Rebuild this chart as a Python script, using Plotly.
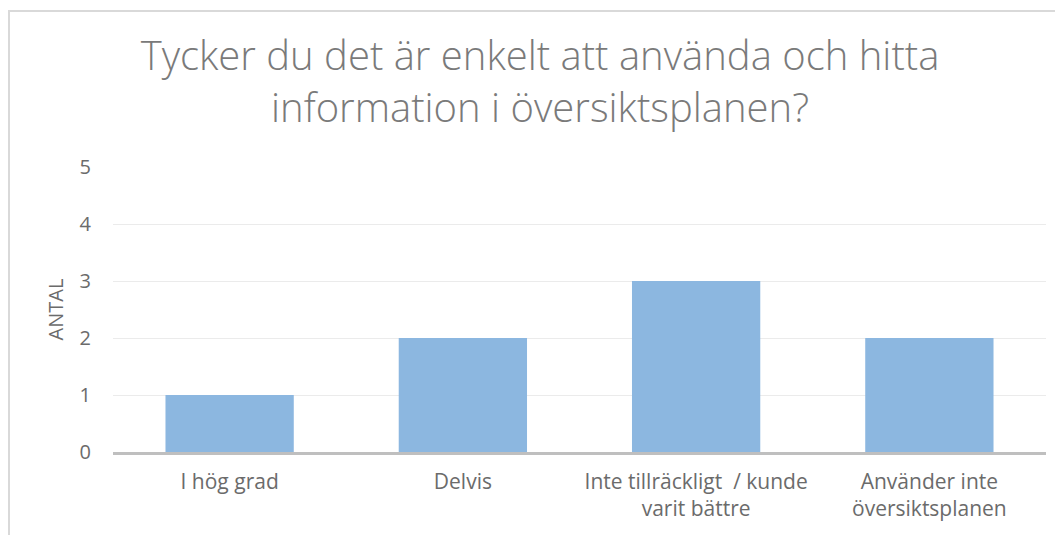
import plotly.graph_objects as go

categories = ["I hög grad", "Delvis", "Inte tillräckligt  / kunde<br>varit bättre", "Använder inte<br>översiktsplanen"]
values = [1, 2, 3, 2]
y_ticks = [0, 1, 2, 3, 4, 5]

title_text = "Tycker du det är enkelt att använda och hitta<br>information i översiktsplanen?"

# page has an 8px body margin, so the figure is drawn 8px smaller and offset
OFF = 8
W, H = 1063 - OFF, 535 - OFF
L, R, T, B = 113 - OFF, 17, 167 - OFF, 83
pw, ph = W - L - R, H - T - B

def px_x(p):
    return (p - OFF - L) / pw

def px_y(p):
    return (H - B - (p - OFF)) / ph

fig = go.Figure(go.Bar(
    x=categories, y=values,
    marker=dict(color="#8cb7e0", line=dict(width=0)),
    width=0.55,
))

fig.update_layout(
    width=W, height=H,
    margin=dict(l=L, r=R, t=T, b=B),
    paper_bgcolor="white", plot_bgcolor="white",
    font=dict(family="Open Sans, Liberation Sans, sans-serif", color="#6b6b6b"),
    showlegend=False,
    title=dict(text=title_text, x=(540 - OFF) / W, xref="container", xanchor="center",
               y=1 - 62 / H, yref="container", yanchor="top",
               font=dict(size=40, color="#7a7a7a", family="Open Sans, sans-serif", weight=300)),
    shapes=[dict(type="rect", xref="paper", yref="paper",
                 x0=px_x(9), x1=px_x(1090), y0=px_y(580), y1=px_y(11),
                 line=dict(color="#d9d9d9", width=2), fillcolor="rgba(0,0,0,0)", layer="below")],
)
fig.update_xaxes(showgrid=False, showline=True, linecolor="#bfbfbf", linewidth=2.5,
                 tickfont=dict(size=21, color="#6b6b6b"), ticks="outside", ticklen=9,
                 tickcolor="rgba(0,0,0,0)")
fig.update_yaxes(range=[0, 5], tickvals=y_ticks, showgrid=True, gridcolor="#ebebeb", gridwidth=1,
                 zeroline=False, showline=False, tickfont=dict(size=20, color="#6b6b6b"),
                 ticks="outside", ticklen=17, tickcolor="rgba(0,0,0,0)",
                 title=dict(text="ANTAL", font=dict(size=20, color="#6b6b6b"), standoff=10))

fig.write_html("out.html")
